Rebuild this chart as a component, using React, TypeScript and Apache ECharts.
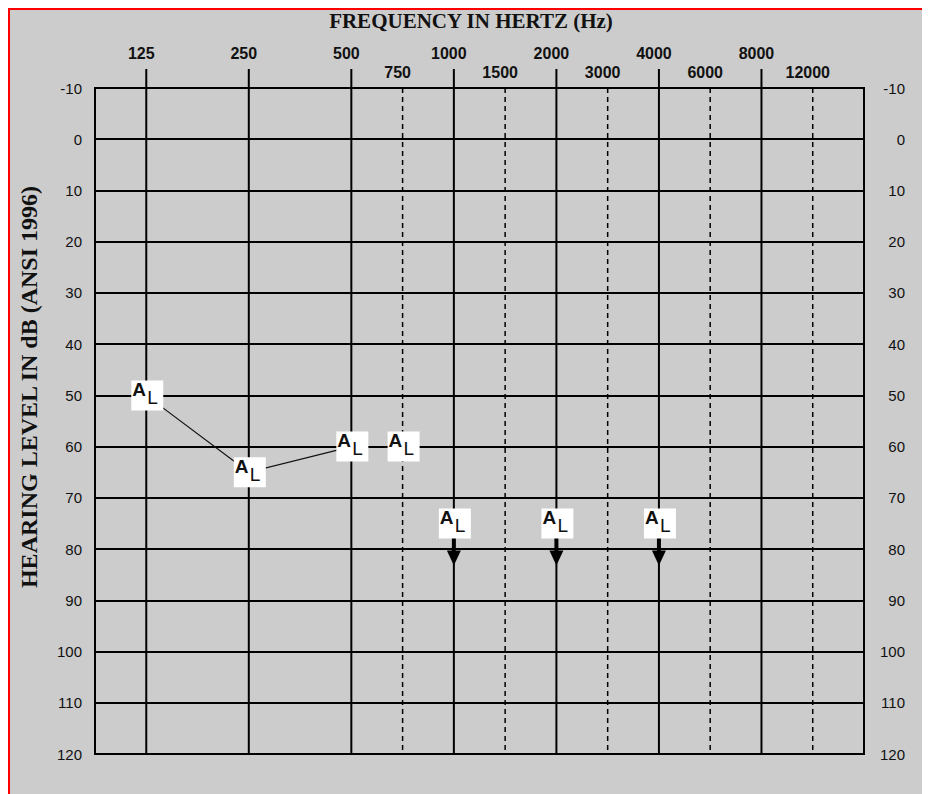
import React, { useEffect, useRef } from "react";
import * as echarts from "echarts";

// ---- data ----
const OCTAVE_FREQS = [125, 250, 500, 1000, 2000, 4000, 8000];
const MID_FREQS = [750, 1500, 3000, 6000, 12000];
const DB_MIN = -10;
const DB_MAX = 120;
const DB_STEP = 10;

// left ear air-conduction thresholds (A_L symbols)
const AIR_FREQS = [125, 250, 500, 750, 1000, 2000, 4000];
const AIR_LEVELS = [50, 65, 60, 60, 75, 75, 75];
const AIR_NO_RESPONSE = [false, false, false, false, true, true, true];
// which measured points are joined by the line
const CONNECTED_FREQS = [125, 250, 500];

const X_TITLE = "FREQUENCY IN HERTZ (Hz)";
const Y_TITLE = "HEARING LEVEL IN dB (ANSI 1996)";

// audiogram position of a frequency: octave index, mid-octaves halfway
function freqPos(f: number): number {
  const oi = OCTAVE_FREQS.indexOf(f);
  if (oi >= 0) return oi;
  const lower = OCTAVE_FREQS.indexOf(f / 1.5);
  return lower + 0.5;
}
function labelAt(v: number): string {
  const r = Math.round(v * 2) / 2;
  for (const f of OCTAVE_FREQS) if (freqPos(f) === r) return "{o|" + f + "}";
  for (const f of MID_FREQS) if (freqPos(f) === r) return "{m|" + f + "}";
  return "";
}

const NARROW = '"Liberation Sans Narrow", "Arial Narrow", "Liberation Sans", Arial, sans-serif';

export default function App() {
  const ref = useRef<HTMLDivElement>(null);
  useEffect(() => {
    if (!ref.current) return;
    const chart = echarts.init(ref.current, undefined, { renderer: "svg" });

    const gridLines = [
      ...OCTAVE_FREQS.map((f) => [freqPos(f), 1]),
      ...MID_FREQS.map((f) => [freqPos(f), 0]),
    ];
    const lineData = CONNECTED_FREQS.map((f) => {
      const i = AIR_FREQS.indexOf(f);
      return [freqPos(f), AIR_LEVELS[i]];
    });
    const markerData = AIR_FREQS.map((f, i) => [freqPos(f), AIR_LEVELS[i], AIR_NO_RESPONSE[i] ? 1 : 0]);

    const yLabelBase = { fontFamily: NARROW, fontSize: 15, color: "#111" };

    chart.setOption({
      animation: false,
      backgroundColor: "transparent",
      grid: {
        left: 85,
        top: 78,
        width: 769,
        height: 666,
        show: true,
        borderColor: "#000",
        borderWidth: 2,
        backgroundColor: "transparent",
      },
      xAxis: {
        type: "value",
        position: "top",
        min: -0.5,
        max: 7,
        interval: 0.5,
        axisLine: { show: false },
        axisTick: { show: false },
        splitLine: { show: false },
        axisLabel: {
          margin: 8,
          padding: [0, 10, 0, 0],
          formatter: (v: number) => labelAt(v),
          rich: {
            o: { fontFamily: NARROW, fontSize: 16, fontWeight: "bold", color: "#111", padding: [0, 0, 19, 0] },
            m: { fontFamily: NARROW, fontSize: 16, fontWeight: "bold", color: "#111" },
          },
        },
      },
      yAxis: [
        {
          type: "value",
          inverse: true,
          position: "left",
          min: DB_MIN,
          max: DB_MAX,
          interval: DB_STEP,
          axisLine: { show: false },
          axisTick: { show: false },
          splitLine: { show: true, lineStyle: { color: "#000", width: 2 } },
          axisLabel: { ...yLabelBase, margin: 13 },
        },
        {
          type: "value",
          inverse: true,
          position: "right",
          min: DB_MIN,
          max: DB_MAX,
          interval: DB_STEP,
          axisLine: { show: false },
          axisTick: { show: false },
          splitLine: { show: false },
          axisLabel: { ...yLabelBase, margin: 41, align: "right" },
        },
      ],
      graphic: [
        {
          type: "text",
          x: 461,
          y: 11,
          style: {
            text: X_TITLE,
            font: 'bold 21px "Liberation Serif", "Times New Roman", serif',
            fill: "#111",
            align: "center",
            verticalAlign: "middle",
          },
        },
        {
          type: "text",
          x: 19,
          y: 377,
          rotation: Math.PI / 2,
          style: {
            text: Y_TITLE,
            font: 'bold 24px "Liberation Serif", "Times New Roman", serif',
            fill: "#111",
            align: "center",
            verticalAlign: "middle",
          },
        },
      ],
      series: [
        {
          type: "custom",
          name: "freqLines",
          clip: false,
          z: 1,
          silent: true,
          data: gridLines,
          encode: { x: 0 },
          renderItem: (params: any, api: any) => {
            const pos = api.value(0);
            const octave = api.value(1) === 1;
            const top = api.coord([pos, DB_MIN]);
            const bot = api.coord([pos, DB_MAX]);
            return {
              type: "line",
              shape: { x1: top[0], y1: top[1] - (octave ? 19 : 0), x2: bot[0], y2: bot[1] },
              style: {
                stroke: "#000",
                lineWidth: octave ? 2 : 1.5,
                lineDash: octave ? null : [5, 4],
              },
            };
          },
        },
        {
          type: "line",
          name: "airLine",
          z: 2,
          silent: true,
          symbol: "none",
          data: lineData,
          lineStyle: { color: "#111", width: 1.2 },
        },
        {
          type: "custom",
          name: "airMarkers",
          clip: false,
          z: 3,
          data: markerData,
          encode: { x: 0, y: 1 },
          renderItem: (params: any, api: any) => {
            const p = api.coord([api.value(0), api.value(1)]);
            const cx = p[0];
            const cy = p[1];
            const noResp = api.value(2) === 1;
            const children: any[] = [];
            if (noResp) {
              children.push({
                type: "rect",
                shape: { x: cx - 2, y: cy + 12, width: 4, height: 17 },
                style: { fill: "#000" },
              });
              children.push({
                type: "polygon",
                shape: { points: [[cx - 7, cy + 27], [cx + 7, cy + 27], [cx, cy + 42]] },
                style: { fill: "#000" },
              });
            }
            children.push({
              type: "rect",
              shape: { x: cx - 15, y: cy - 15, width: 32, height: 30 },
              style: { fill: "#fff" },
            });
            children.push({
              type: "text",
              x: cx - 14,
              y: cy - 6,
              style: {
                text: "A",
                font: 'bold 19px "Liberation Sans", Arial, sans-serif',
                fill: "#111",
                align: "left",
                verticalAlign: "middle",
              },
            });
            children.push({
              type: "text",
              x: cx + 1,
              y: cy + 2,
              style: {
                text: "L",
                font: '19px "Liberation Sans", Arial, sans-serif',
                fill: "#111",
                align: "left",
                verticalAlign: "middle",
              },
            });
            return { type: "group", children };
          },
        },
      ],
    });
    return () => chart.dispose();
  }, []);

  return (
    <div
      style={{
        width: 922,
        height: 786,
        boxSizing: "border-box",
        borderTop: "2px solid #ff0000",
        borderLeft: "2px solid #ff0000",
        background: "#cccccc",
        overflow: "hidden",
      }}
    >
      <div ref={ref} style={{ width: 920, height: 784 }} />
    </div>
  );
}
